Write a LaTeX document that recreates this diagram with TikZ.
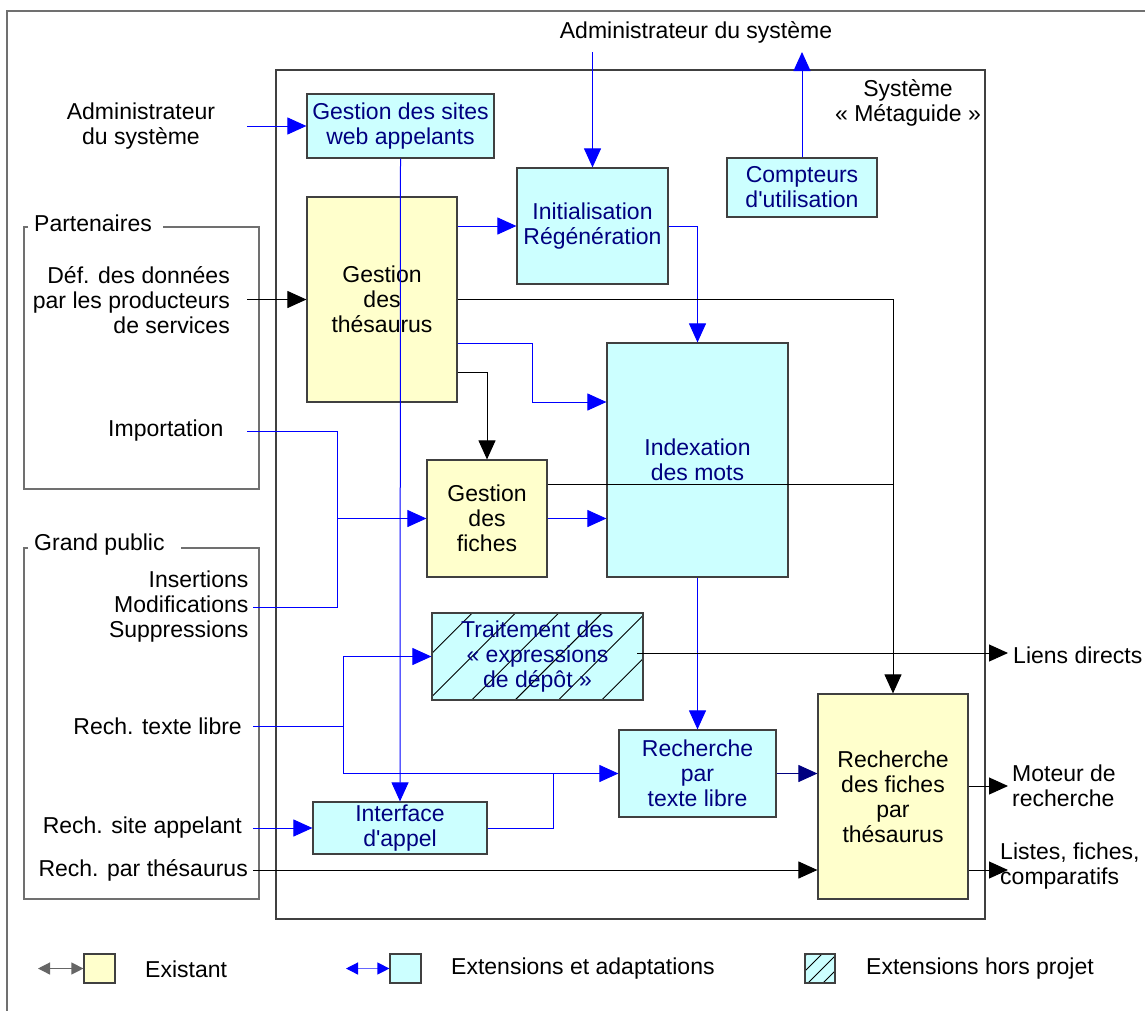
\documentclass[tikz,border=0pt]{standalone}
\usepackage{fontspec}
\setmainfont{Liberation Sans}
\usetikzlibrary{arrows.meta}
\definecolor{cyanf}{HTML}{CCFFFF}
\definecolor{yelf}{HTML}{FFFFCC}
\definecolor{navyt}{HTML}{000080}
\definecolor{boxline}{HTML}{404040}
\definecolor{frameg}{HTML}{707070}
\begin{document}
\begin{tikzpicture}[x=1pt,y=-1pt,
  every node/.style={font=\fontsize{23}{25}\selectfont, inner sep=0pt},
  box/.style={draw=boxline, line width=1.2pt, align=center},
  ext/.style={box, fill=cyanf, text=navyt},
  exi/.style={box, fill=yelf, text=black},
  hatch/.style n args={4}{path picture={\foreach \k in {#3,...,#4} \draw[black, line width=0.9pt] ([xshift={#1+\k*#2}]path picture bounding box.south west) -- ++(300,-300);}},
  bl/.style={draw=blue, line width=1pt},
  blk/.style={draw=black, line width=1pt},
  nav/.style={draw=navyt, line width=1pt},
  tip/.style={-{Triangle[length=19pt,width=17pt]}},
  lbl/.style={align=right, anchor=east},
  rlbl/.style={align=left, anchor=west},
  grp/.style={draw=frameg, line width=1.2pt},
  smalltips/.style={{Triangle[length=12pt,width=12pt]}-{Triangle[length=12pt,width=12pt]}},
]
\useasboundingbox (0,0) rectangle (1145,1010);
\fill[white] (0,0) rectangle (1145,1010);

% outer frame
\draw[frameg, line width=1.5pt] (7,1015) -- (7,11) -- (1150,11);
% system frame
\draw[boxline, line width=1.2pt] (276,70) rectangle (985,919);
\node (syslbl) at (908,103) [align=center] {Système\\«~Métaguide~»};

% group frames
\draw[grp] (28,227) -- (24,227) -- (24,489) -- (259,489) -- (259,227) -- (163,227);
\node (partlbl) [anchor=west] at (34,223) {Partenaires};
\draw[grp] (28,548) -- (24,548) -- (24,899) -- (259,899) -- (259,548) -- (181,548);
\node (gplbl) [anchor=west] at (34,545) {Grand public};

% outside labels
\node (admtop) at (696,32) {Administrateur du système};
\node (admleft) at (141,126) [align=center] {Administrateur\\du système};
\node (deflbl) [lbl] at (230,300) {Déf. des données\\par les producteurs\\de services};
\node (implbl) [lbl] at (223.5,431) {Importation};
\node (modlbl) [lbl] at (248.6,607) {Insertions\\Modifications\\Suppressions};
\node (rtllbl) [lbl] at (242,726) {Rech. texte libre};
\node (sitelbl) [lbl] at (242,828) {Rech. site appelant};
\node (theslbl) [lbl] at (248,870.5) {Rech. par thésaurus};
\node (lienslbl) [rlbl] at (1013,655) {Liens directs};
\node (motlbl) [rlbl] at (1012,786) {Moteur de\\recherche};
\node (lislbl) [rlbl] at (1000,866.5) {Listes, fiches,\\comparatifs};

% boxes
\node (sites) [ext, minimum width=187pt, minimum height=64pt] at (400.5,126) {Gestion des sites\\web appelants};
\node (init) [ext, minimum width=151pt, minimum height=116pt] at (592.5,226) {Initialisation\\Régénération};
\node (compt) [ext, minimum width=150pt, minimum height=59pt] at (802,187.5) {Compteurs\\d\textquotesingle utilisation};
\node (thes) [exi, minimum width=150pt, minimum height=205pt] at (382,299.5) {Gestion\\des\\thésaurus};
\node (index) [ext, minimum width=181pt, minimum height=234pt] at (697.5,460) {Indexation\\des mots};
\node (fiches) [exi, minimum width=120pt, minimum height=117pt] at (487,518.5) {Gestion\\des\\fiches};
\node (trait) [ext, hatch={-3.5}{43.3}{-3}{5}, minimum width=211pt, minimum height=87pt] at (537.5,656.5) {Traitement des\\«~expressions\\de dépôt~»};
\node (rtl) [ext, minimum width=157pt, minimum height=87pt] at (697.5,773.5) {Recherche\\par\\texte libre};
\node (rfiches) [exi, minimum width=150pt, minimum height=205pt] at (893,796.5) {Recherche\\des fiches\\par\\thésaurus};
\node (interf) [ext, minimum width=174pt, minimum height=52pt] at (400,828) {Interface\\d\textquotesingle appel};

% connector coordinates
\coordinate (cAdmTop) at (592.5,52);
\coordinate (cCompt) at (802,52);
\coordinate (cAdm) at (247,126);
\coordinate (cDef) at (247,299.5);
\coordinate (cTiA) at (532,343);
\coordinate (cTiB) at (532,402);
\coordinate (cImp) at (247,431);
\coordinate (cImpA) at (337,431);
\coordinate (cImpF) at (337,518.5);
\coordinate (cImpB) at (337,607);
\coordinate (cMod) at (253,607);
\coordinate (cRtl) at (253,726);
\coordinate (cRtlA) at (343,726);
\coordinate (cRtlT) at (343,656.5);
\coordinate (cRtlB) at (343,773.5);
\coordinate (cSite) at (253,828);
\coordinate (cIntA) at (553,828);
\coordinate (cIntB) at (553,773.5);
\coordinate (cThes) at (253,870);
\coordinate (cLiensS) at (637,653);
\coordinate (cLiensE) at (1008,653);
\coordinate (cMot) at (1008,786);
\coordinate (cLis) at (1008,870);

% connectors
\draw[bl, tip] (cAdmTop) -- (init.north);
\draw[bl, tip] (compt.north) -- (cCompt);
\draw[bl, tip] (cAdm) -- (sites.west);
\draw[bl, tip] (sites.south) -- (interf.north);
\draw[blk, tip] (cDef) -- (thes.west);
\draw[bl, tip] (thes.east |- init.west) -- (init.west);
\draw[bl, tip] (init.east) -| (index.north);
\draw[blk, tip] (thes.east) -| (rfiches.north);
\draw[bl, tip] (thes.east |- cTiA) -- (cTiA) -- (cTiB) -- (index.west |- cTiB);
\draw[blk, tip] (thes.east |- 0,372) -| (fiches.north);
\draw[bl, tip] (fiches.east) -- (fiches.east -| index.west);
\draw[blk] (fiches.east |- 0,484) -- (rfiches.north |- 0,484);
\draw[bl] (cImp) -- (cImpA) -- (cImpB) -- (cMod);
\draw[bl, tip] (cImpF) -- (fiches.west);
\draw[bl, tip] (index.south) -- (rtl.north);
\draw[bl] (cRtl) -- (cRtlA);
\draw[bl, tip] (cRtlT) -- (trait.west);
\draw[bl] (cRtlT) -- (cRtlB);
\draw[bl, tip] (cRtlB) -- (rtl.west);
\draw[bl] (interf.east) -- (cIntA) -- (cIntB);
\draw[bl, tip] (cSite) -- (interf.west);
\draw[blk, tip] (cThes) -- (rfiches.west |- cThes);
\draw[nav, -{Triangle[length=19pt,width=17pt,color=navyt]}] (rtl.east) -- (rtl.east -| rfiches.west);
\draw[blk, tip] (cLiensS) -- (cLiensE);
\draw[blk, tip] (rfiches.east |- cMot) -- (cMot);
\draw[blk, tip] (rfiches.east |- cLis) -- (cLis);

% legend
\node (leg1) [exi, minimum width=31pt, minimum height=29pt] at (99.5,968.5) {};
\node (leg1t) [rlbl] at (145,969) {Existant};
\node (leg2) [ext, minimum width=31pt, minimum height=29pt] at (405.5,968.5) {};
\node (leg2t) [rlbl] at (451,969) {Extensions et adaptations};
\node (leg3) [ext, hatch={3}{15}{-2}{2}, minimum width=30pt, minimum height=29pt] at (820,968.5) {};
\node (leg3t) [rlbl] at (866,969) {Extensions hors projet};
\coordinate (cLeg1) at (38,968.5);
\coordinate (cLeg2) at (346,968.5);
\draw[draw=black!60, line width=1.2pt, smalltips] (cLeg1) -- (leg1.west);
\draw[draw=blue!60, line width=1.2pt, {Triangle[length=12pt,width=12pt,color=blue]}-{Triangle[length=12pt,width=12pt,color=blue]}] (cLeg2) -- (leg2.west);
\end{tikzpicture}
\end{document}
